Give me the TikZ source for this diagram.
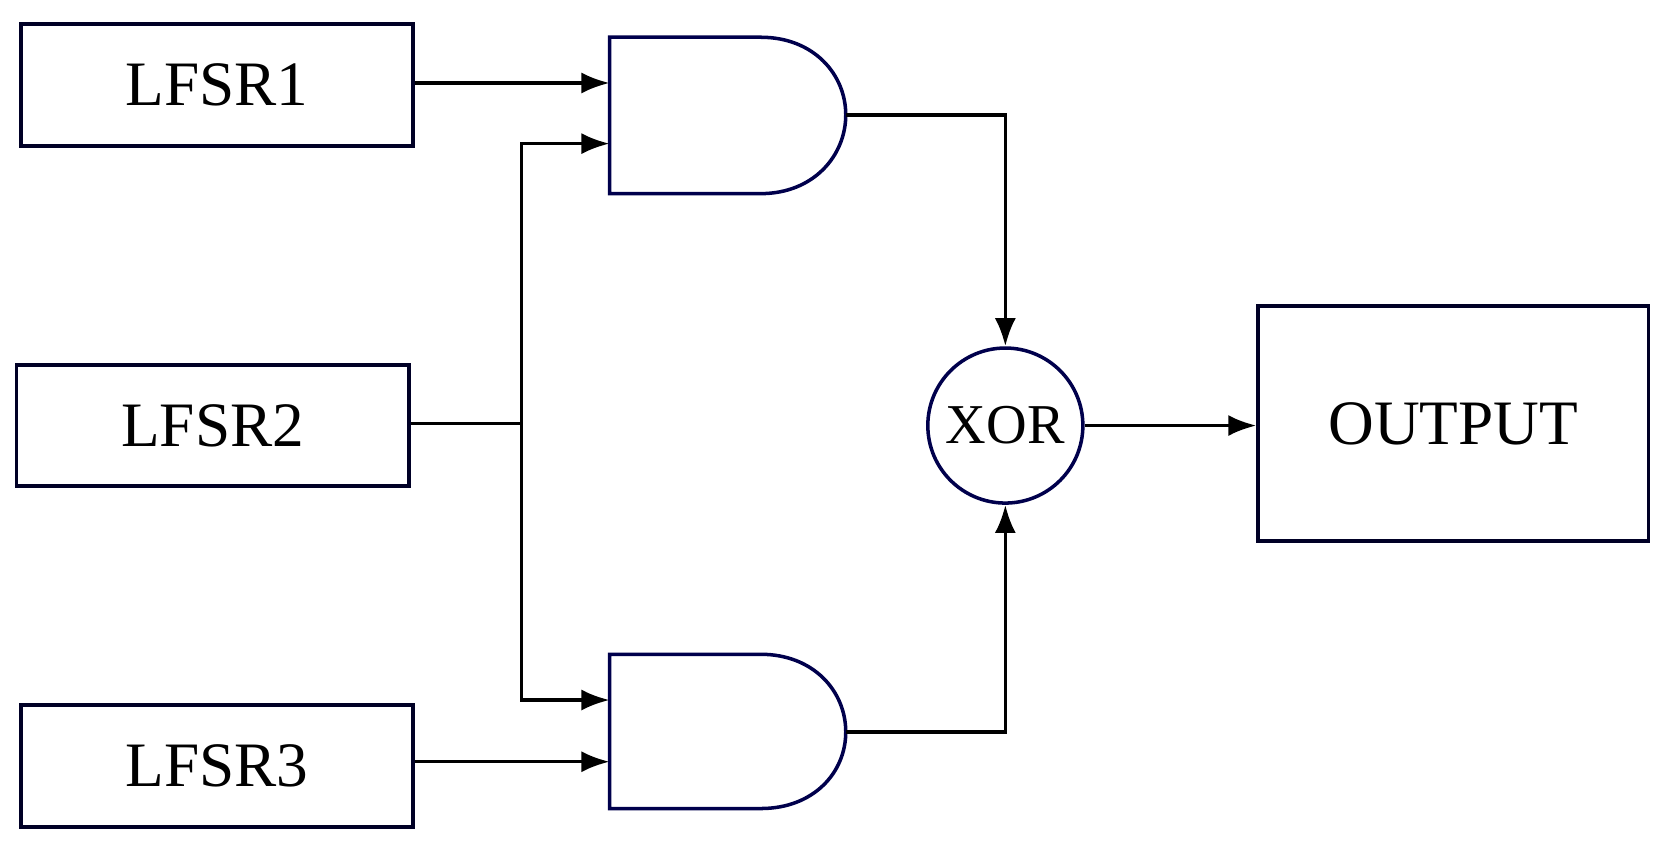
\documentclass[tikz,border=0pt]{standalone}
\usepackage{fontspec}
\setmainfont{Liberation Serif}
\usetikzlibrary{arrows.meta}
\begin{document}
\begin{tikzpicture}[x=0.01064cm,y=-0.01064cm,
  box/.style={draw=black!85!blue,line width=1pt,inner sep=0pt,font=\fontsize{18}{21}\selectfont},
  wire/.style={line width=1pt,-{Latex[length=8pt,width=6pt]}},
  plain/.style={line width=1pt},
  gate/.style={draw=black!70!blue,line width=1pt}]
\useasboundingbox (0,0) rectangle (1566,804);
\node[box,minimum width=3.92cm,minimum height=1.22cm] (l1) at (204,80) {LFSR1};
\node[box,minimum width=3.92cm,minimum height=1.21cm] (l2) at (200,400) {LFSR2};
\node[box,minimum width=3.92cm,minimum height=1.22cm] (l3) at (204,720) {LFSR3};
\node[box,minimum width=3.9cm,minimum height=2.35cm] (out) at (1366,398) {OUTPUT};
\node[circle,draw=black!70!blue,line width=1pt,minimum size=1.55cm,inner sep=0pt,font=\fontsize{16}{18}\selectfont] (x) at (945,400) {XOR};
% gates
\draw[gate] (573,35) -- (715,35) .. controls (765,35) and (795,70) .. (795,108) .. controls (795,146) and (765,182) .. (715,182) -- (573,182) -- cycle;
\draw[gate] (573,615) -- (715,615) .. controls (765,615) and (795,650) .. (795,688) .. controls (795,726) and (765,760) .. (715,760) -- (573,760) -- cycle;
\coordinate (g1a) at (573,78); \coordinate (g1b) at (573,135); \coordinate (g1o) at (795,108);
\coordinate (g2a) at (573,658); \coordinate (g2b) at (573,716); \coordinate (g2o) at (795,688);
\coordinate (br) at (490,398);
\draw[wire] (l1.east |- g1a) -- (g1a);
\draw[plain] (l2.east |- br) -- (br);
\draw[wire] (br) |- (g1b);
\draw[wire] (br) |- (g2a);
\draw[wire] (l3.east |- g2b) -- (g2b);
\draw[wire] (g1o) -| (x.north);
\draw[wire] (g2o) -| (x.south);
\draw[wire] (x.east) -- (out.west |- x.east);
\end{tikzpicture}
\end{document}
